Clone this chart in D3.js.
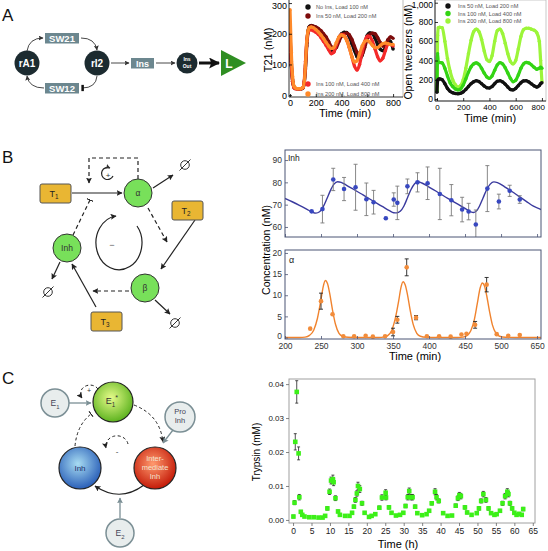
<!DOCTYPE html>
<html><head><meta charset="utf-8">
<script src="https://cdn.jsdelivr.net/npm/d3@7"></script>
<style>body{margin:0;background:#fff;} svg{display:block;}</style>
</head><body><svg id="c" width="548" height="551"></svg>
<script>
// ---------------- DATA ----------------
// Panel A, T21 chart
const t21Time=[0,10,20,30,40,60,80,100,110,120,130,140,150,165,180,200,220,240,260,280,300,320,340,360,380,400,420,440,460,480,500,520,540,560,580,600,620,640,660,680,700,720,740,760,780,800];
const t21NoIns=[178,95,45,26,22,20,20,23,40,95,170,210,224,227,224,220,213,205,195,183,165,145,143,162,188,200,205,204,190,168,145,125,118,130,165,195,203,200,185,165,150,145,155,180,175,150];
const t21Ins50=[200,110,50,28,23,21,21,24,38,85,160,205,222,226,225,222,217,210,200,190,175,158,150,155,175,192,200,202,197,182,160,140,128,132,155,185,198,202,200,188,172,160,162,180,190,185];
const t21Ins100=[190,100,45,25,21,20,20,24,45,110,180,205,212,213,210,205,198,188,175,162,148,135,140,165,188,198,195,180,155,125,95,82,100,140,175,192,190,175,150,125,112,120,145,165,165,160];
const t21Ins200=[278,140,60,30,24,21,21,25,40,100,175,210,220,222,220,214,206,196,185,172,160,152,155,172,190,196,192,178,155,125,108,112,135,160,175,178,172,162,155,155,162,168,170,168,165,165];
const t21Labels=["No Ins, Load 100 nM","Ins 50 nM, Load 200 nM","Ins 100 nM, Load 400 nM","Ins 200 nM, Load 800 nM"];
const t21XTicks=[0,200,400,600,800], t21YTicks=[0,100,200,300];
// Panel A, open tweezers chart
const twTime=[0,5,10,20,40,60,80,100,120,140,160,180,200,220,240,260,280,300,320,340,360,380,400,420,440,460,480,500,520,540,560,580,600,620,640,660,680,700,720,740,760,780,790,800];
const twIns50=[70,190,205,210,200,160,110,80,65,58,55,60,75,100,130,160,180,190,182,160,135,118,115,130,160,185,190,178,155,125,100,95,110,140,170,188,190,178,158,138,125,140,160,170];
const twIns100=[80,470,380,380,375,320,240,170,130,105,95,105,145,210,280,335,365,375,360,320,270,230,215,240,300,355,378,365,325,270,215,180,195,250,320,365,380,375,355,330,310,320,330,320];
const twIns200=[90,660,740,745,740,600,420,290,200,150,125,140,200,320,470,610,700,725,700,620,500,410,390,450,600,710,725,680,580,470,390,365,400,520,650,720,735,735,725,715,690,600,400,180];
const twLabels=["Ins   50 nM, Load 200 nM","Ins 100 nM, Load 400 nM","Ins 200 nM, Load 800 nM"];
const twXTicks=[0,200,400,600,800], twYTicks=[0,200,400,600,800,1000];
// Panel B, Inh data + fit
const inhTime=[237,252,267,282,298,313,323,340,351,356,370,384,398,415,431,446,455,465,481,497,512,526];
const inhVal=[67.0,68.0,81.3,77.0,77.8,72.4,71.1,63.9,72.3,70.8,78.2,80.0,79.6,74.8,72.0,67.8,66.9,61.1,77.2,71.4,76.2,72.3];
const inhErr=[0.5,6.2,5.0,5.2,10.3,7.3,5.3,0.6,3.0,7.5,3.3,4.3,7.3,11.5,7.0,5.5,3.7,6.5,10.3,3.3,2.5,1.7];
const inhFitTime=[200,210,220,230,238,243,248,253,258,263,268,273,278,285,295,305,315,325,335,345,351,355,360,365,370,375,380,384,390,400,410,420,430,440,450,458,462,466,470,475,480,485,490,495,505,515,525,535,545,556];
const inhFitVal=[72.8,71.3,69.7,68.0,66.6,66.2,66.8,69.0,72.5,76.3,79.2,80.3,80.0,78.8,76.9,75.0,73.1,71.1,69.2,67.3,66.4,66.3,67.0,69.3,73.0,76.8,79.4,80.3,79.7,77.9,76.0,74.0,72.1,70.2,68.3,66.8,66.5,67.2,69.3,73.0,76.7,79.2,80.2,79.9,78.0,75.9,73.7,71.5,69.3,67.8];
const inhYTicks=[60,70,80,90];
// Panel B, alpha data + fit
const alphaTime=[235,250,266,281,296,312,322,339,350,356,369,382,397,414,430,445,452,464,480,494,510,526];
const alphaVal=[2.1,8.6,5.5,0.3,0.3,0.4,0.2,0.3,1.3,4.2,16.6,4.7,0.3,0.3,0.2,0.7,0.9,3.0,12.5,0.8,0.4,0.6];
const alphaErr=[0,1.9,0,0,0,0,0,0,0.9,0.8,2.0,0.5,0,0,0,0,0,0.8,1.7,0,0,0];
const alphaFitTime=[200,220,228,234,240,245,250,253,256,259,262,266,270,275,280,288,300,330,337,343,348,353,358,361,364,367,370,374,378,383,388,396,410,440,447,453,458,463,467,471,474,477,480,484,488,493,498,506,520,556];
const alphaFitVal=[0,0,0.1,0.5,1.8,4.5,9.0,12.0,13.5,12.8,10.5,6.5,3.2,1.0,0.3,0.05,0,0,0.1,0.5,1.6,4.4,8.8,11.8,13.2,12.4,10.2,6.3,3.1,1.0,0.3,0.05,0,0,0.1,0.5,1.6,4.3,8.0,11.7,12.9,12.2,10.0,6.2,3.0,1.0,0.3,0.05,0,0];
const alphaYTicks=[0,5,10,15,20];
const bXTicks=[200,250,300,350,400,450,500,550];
const bXLabels=["200","250","300","350","400","450","500","650"];
// Panel C, trypsin
const trypTime=[0.1,0.4,0.6,1.0,1.5,1.7,2.1,2.5,3.1,4.4,5.6,6.9,8.0,8.7,9.3,9.9,10.3,10.8,11.0,11.5,12.2,12.7,14.1,15.3,16.0,16.5,16.9,17.3,17.6,18.1,18.7,19.4,20.6,21.3,22.3,23.4,24.1,25.1,25.2,26.0,26.7,27.9,29.0,29.9,30.5,31.1,31.5,32.0,32.4,33.1,33.7,35.0,36.2,36.9,37.6,38.5,38.9,39.5,40.7,41.9,43.1,44.1,44.7,45.1,45.5,46.6,47.2,48.4,49.8,50.4,51.0,51.6,52.3,53.0,53.7,54.6,55.2,56.1,56.8,57.5,58.1,58.4,58.8,59.4,60.0,60.6,61.3,62.0,62.4];
const trypVal=[0.0010,0.0051,0.0230,0.0377,0.0196,0.0067,0.0024,0.0015,0.0010,0.0008,0.0008,0.0007,0.0007,0.0012,0.0034,0.0083,0.0116,0.0120,0.0111,0.0064,0.0025,0.0015,0.0012,0.0012,0.0021,0.0039,0.0059,0.0078,0.0100,0.0091,0.0049,0.0021,0.0009,0.0012,0.0017,0.0036,0.0066,0.0080,0.0066,0.0037,0.0021,0.0013,0.0015,0.0021,0.0041,0.0067,0.0085,0.0067,0.0067,0.0039,0.0020,0.0014,0.0017,0.0027,0.0049,0.0083,0.0067,0.0056,0.0020,0.0012,0.0013,0.0042,0.0064,0.0073,0.0070,0.0037,0.0022,0.0015,0.0020,0.0034,0.0056,0.0076,0.0059,0.0034,0.0020,0.0015,0.0017,0.0027,0.0049,0.0070,0.0083,0.0076,0.0049,0.0034,0.0021,0.0015,0.0018,0.0015,0.0032];
const trypErr=[0.0004,0.0006,0.0024,0.0033,0.0019,0.0008,0.0004,0.0004,0.0003,0.0003,0.0003,0.0003,0.0003,0.0004,0.0005,0.0008,0.0010,0.0012,0.0010,0.0007,0.0004,0.0004,0.0003,0.0003,0.0004,0.0005,0.0007,0.0008,0.0011,0.0010,0.0006,0.0004,0.0003,0.0003,0.0004,0.0005,0.0008,0.0009,0.0007,0.0005,0.0004,0.0003,0.0003,0.0004,0.0005,0.0008,0.0009,0.0008,0.0008,0.0005,0.0004,0.0003,0.0003,0.0004,0.0005,0.0009,0.0008,0.0006,0.0004,0.0003,0.0003,0.0005,0.0007,0.0008,0.0008,0.0005,0.0004,0.0003,0.0004,0.0005,0.0006,0.0008,0.0007,0.0005,0.0004,0.0003,0.0003,0.0004,0.0006,0.0008,0.0009,0.0008,0.0006,0.0005,0.0004,0.0003,0.0004,0.0003,0.0005];
const cXTicks=[0,5,10,15,20,25,30,35,40,45,50,55,60,65];
const cYTicks=[0,0.01,0.02,0.03,0.04];

// ---------------- DRAWING ----------------
const FONT='"Liberation Sans", Arial, sans-serif';
const svg=d3.select('#c').attr('font-family',FONT);
const defs=svg.append('defs');
function marker(id,color,size){
  defs.append('marker').attr('id',id).attr('viewBox','0 0 10 10').attr('refX',9).attr('refY',5)
   .attr('markerWidth',size).attr('markerHeight',size).attr('markerUnits','userSpaceOnUse').attr('orient','auto')
   .append('path').attr('d','M0,0 L10,5 L0,10 L2,5 z').attr('fill',color);
}
marker('ah','#333',5); marker('ahBig','#111',11); marker('ahG','#7b8f95',6); marker('ahD','#222',6);
defs.append('marker').attr('id','bar').attr('viewBox','0 0 4 10').attr('refX',3).attr('refY',5)
  .attr('markerWidth',2.5).attr('markerHeight',8).attr('markerUnits','userSpaceOnUse').attr('orient','auto')
  .append('rect').attr('width',4).attr('height',10).attr('fill','#111');
defs.append('marker').attr('id','tbar').attr('viewBox','0 0 2 10').attr('refX',1).attr('refY',5)
  .attr('markerWidth',1.3).attr('markerHeight',8).attr('markerUnits','userSpaceOnUse').attr('orient','auto')
  .append('rect').attr('width',2).attr('height',10).attr('fill','#222');
function grad(id,c0,c1){const g=defs.append('radialGradient').attr('id',id).attr('cx','45%').attr('cy','40%').attr('r','60%');
  g.append('stop').attr('offset','0%').attr('stop-color',c0); g.append('stop').attr('offset','100%').attr('stop-color',c1);}
grad('gGreen','#e6fb8a','#5db31f'); grad('gRed','#ff9a6e','#c41a08'); grad('gBlue','#a8dcf2','#2a5fb8');

function clip(id,x,y){defs.append('clipPath').attr('id',id).append('rect').attr('x',x.range()[0]).attr('y',y.range()[1])
  .attr('width',x.range()[1]-x.range()[0]).attr('height',y.range()[0]-y.range()[1]);}
function frame(g,x,y,color,w){g.append('rect').attr('x',x.range()[0]).attr('y',y.range()[1]).attr('width',x.range()[1]-x.range()[0])
  .attr('height',y.range()[0]-y.range()[1]).attr('fill','none').attr('stroke',color).attr('stroke-width',w);}
function styleAx(sel,o){sel.attr('font-family',FONT).attr('font-size',o.fs);sel.select('.domain').remove();
  sel.selectAll('line').attr('stroke',o.tc||'#000').attr('stroke-width',o.sw||0.8);sel.selectAll('text').attr('fill',o.lc||'#000');}
function txt(g,x,y,s,fs,o={}){const t=g.append('text').attr('x',x).attr('y',y).attr('font-size',fs).attr('text-anchor',o.anchor||'middle')
  .attr('fill',o.fill||'#000').text(s); if(o.rot) t.attr('transform',`rotate(-90,${x},${y})`); if(o.weight) t.attr('font-weight',o.weight); return t;}

// ===== Panel A chart 1: T21 =====
{
 const x=d3.scaleLinear().domain([-8,877]).range([289,403]);
 const y=d3.scaleLinear().domain([-6,310]).range([97,0]);
 const g=svg.append('g'); clip('clipA1',x,y);
 g.append('line').attr('x1',403).attr('x2',403).attr('y1',0).attr('y2',97).attr('stroke','#bbb');
 const series=[[t21NoIns,'#111'],[t21Ins50,'#7d0b0b'],[t21Ins100,'#f42a2a'],[t21Ins200,'#ff8a2a']];
 const line=d3.line().x((d,i)=>x(t21Time[i])).y(d=>y(d)).curve(d3.curveMonotoneX);
 const lg=g.append('g').attr('clip-path','url(#clipA1)');
 series.forEach(([v,c])=>{lg.append('path').attr('d',line(v)).attr('fill','none').attr('stroke',c).attr('stroke-width',3.2);
   lg.selectAll(null).data(v).enter().append('circle').attr('cx',(d,i)=>x(t21Time[i])).attr('cy',d=>y(d)).attr('r',1.7).attr('fill',c);});
 g.append('line').attr('x1',289).attr('x2',289).attr('y1',0).attr('y2',97).attr('stroke','#000').attr('stroke-width',0.8);
 g.append('line').attr('x1',289).attr('x2',403).attr('y1',97).attr('y2',97).attr('stroke','#000').attr('stroke-width',0.8);
 const ay=g.append('g').attr('transform','translate(289,0)').call(d3.axisLeft(y).tickValues(t21YTicks).tickSize(-3).tickPadding(2));
 styleAx(ay,{fs:9});
 ay.selectAll('text').filter(d=>d===300).attr('dy','0.6em');
 const ax=g.append('g').attr('transform','translate(0,97)').call(d3.axisBottom(x).tickValues(t21XTicks).tickSize(-3).tickPadding(3));
 styleAx(ax,{fs:9});
 const ly=[7,16,84,94];
 series.forEach(([v,c],i)=>{g.append('circle').attr('cx',308).attr('cy',ly[i]).attr('r',2.7).attr('fill',c);
   txt(g,316,ly[i]+2,t21Labels[i],5.6,{anchor:'start',fill:'#555'});});
 txt(g,272,50,'T21 (nM)',11,{rot:true});
 txt(g,345,117,'Time (min)',11);
}
// ===== Panel A chart 2: Open tweezers =====
{
 const x=d3.scaleLinear().domain([-15,831]).range([435,546]);
 const y=d3.scaleLinear().domain([-20,1028]).range([101,0]);
 const g=svg.append('g'); clip('clipA2',x,y);
 frame(g,x,y,'#bbb',0.8);
 const series=[[twIns200,'#9cf53a'],[twIns100,'#33d414'],[twIns50,'#111']];
 const line=d3.line().x((d,i)=>x(twTime[i])).y(d=>y(d)).curve(d3.curveMonotoneX);
 const lg=g.append('g').attr('clip-path','url(#clipA2)');
 series.forEach(([v,c])=>{lg.append('path').attr('d',line(v)).attr('fill','none').attr('stroke',c).attr('stroke-width',3.2);
   lg.selectAll(null).data(v).enter().append('circle').attr('cx',(d,i)=>x(twTime[i])).attr('cy',d=>y(d)).attr('r',1.7).attr('fill',c);});
 g.append('line').attr('x1',435).attr('x2',435).attr('y1',0).attr('y2',101).attr('stroke','#000').attr('stroke-width',0.8);
 g.append('line').attr('x1',435).attr('x2',546).attr('y1',101).attr('y2',101).attr('stroke','#000').attr('stroke-width',0.8);
 const ay=g.append('g').attr('transform','translate(435,0)').call(d3.axisLeft(y).tickValues(twYTicks).tickSize(-3).tickPadding(2));
 styleAx(ay,{fs:8.5});
 ay.selectAll('text').filter(d=>d===1000).attr('dy','0.6em');
 const ax=g.append('g').attr('transform','translate(0,101)').call(d3.axisBottom(x).tickValues(twXTicks).tickSize(-3).tickPadding(3));
 styleAx(ax,{fs:8});
 ax.selectAll('text').filter(d=>d===800).attr('text-anchor','end').attr('dx','0.3em');
 const cols=['#111','#33d414','#9cf53a'], ly=[6,13.5,21];
 cols.forEach((c,i)=>{g.append('circle').attr('cx',448).attr('cy',ly[i]).attr('r',2.7).attr('fill',c);
   txt(g,458,ly[i]+2,twLabels[i],5.6,{anchor:'start',fill:'#555'});});
 txt(g,412,52,'Open tweezers (nM)',10.5,{rot:true});
 txt(g,490,122,'Time (min)',11);
}
// ===== Panel B charts =====
{
 const x=d3.scaleLinear().domain([200,555.5]).range([285,541]);
 const yI=d3.scaleLinear().domain([55.5,94.5]).range([237,150]);
 const yA=d3.scaleLinear().domain([-0.35,20.7]).range([339,250]);
 const g=svg.append('g'); clip('clipBI',x,yI); clip('clipBA',x,yA);
 const fc='#4a5474';
 // Inh
 const gi=g.append('g').attr('clip-path','url(#clipBI)');
 gi.append('path').attr('d',d3.line().x((d,i)=>x(inhFitTime[i])).y(d=>yI(d)).curve(d3.curveMonotoneX)(inhFitVal))
   .attr('fill','none').attr('stroke','#3a3a9e').attr('stroke-width',1.4);
 inhVal.forEach((v,i)=>{const cx=x(inhTime[i]);
   if(inhErr[i]>1){gi.append('line').attr('x1',cx).attr('x2',cx).attr('y1',yI(v-inhErr[i])).attr('y2',yI(v+inhErr[i])).attr('stroke','#7a7a7a').attr('stroke-width',0.9);
   [v-inhErr[i],v+inhErr[i]].forEach(e=>gi.append('line').attr('x1',cx-2).attr('x2',cx+2).attr('y1',yI(e)).attr('y2',yI(e)).attr('stroke','#7a7a7a').attr('stroke-width',0.9));}
   gi.append('circle').attr('cx',cx).attr('cy',yI(v)).attr('r',2.3).attr('fill','#3848c0');});
 frame(g,x,yI,fc,1);
 const ayI=g.append('g').attr('transform','translate(285,0)').call(d3.axisLeft(yI).tickValues(inhYTicks).tickSize(-3).tickPadding(3));
 styleAx(ayI,{fs:8.5,tc:fc,lc:'#333'});
 const axI=g.append('g').attr('transform','translate(0,237)').call(d3.axisBottom(x).tickValues(bXTicks).tickSize(-3).tickFormat(''));
 styleAx(axI,{fs:8,tc:fc});
 txt(g,288,161,'Inh',8.5,{anchor:'start',fill:'#222'});
 // alpha
 const ga=g.append('g').attr('clip-path','url(#clipBA)');
 ga.append('path').attr('d',d3.line().x((d,i)=>x(alphaFitTime[i])).y(d=>yA(d)).curve(d3.curveMonotoneX)(alphaFitVal))
   .attr('fill','none').attr('stroke','#f0832e').attr('stroke-width',1.4);
 alphaVal.forEach((v,i)=>{const cx=x(alphaTime[i]);
   if(alphaErr[i]>0){ga.append('line').attr('x1',cx).attr('x2',cx).attr('y1',yA(v-alphaErr[i])).attr('y2',yA(v+alphaErr[i])).attr('stroke','#222').attr('stroke-width',0.9);
   [v-alphaErr[i],v+alphaErr[i]].forEach(e=>ga.append('line').attr('x1',cx-2).attr('x2',cx+2).attr('y1',yA(e)).attr('y2',yA(e)).attr('stroke','#222').attr('stroke-width',0.9));}
   ga.append('circle').attr('cx',cx).attr('cy',yA(v)).attr('r',2.3).attr('fill','#f28c3a');});
 frame(g,x,yA,fc,1);
 const ayA=g.append('g').attr('transform','translate(285,0)').call(d3.axisLeft(yA).tickValues(alphaYTicks).tickSize(-3).tickPadding(3));
 styleAx(ayA,{fs:8.5,tc:fc,lc:'#333'});
 ayA.selectAll('text').filter(d=>d===0).attr('dy','0.1em');
 const axA=g.append('g').attr('transform','translate(0,339)').call(d3.axisBottom(x).tickValues(bXTicks).tickSize(-3).tickPadding(4).tickFormat((d,i)=>bXLabels[i]));
 styleAx(axA,{fs:8.5,tc:fc,lc:'#333'});
 txt(g,289,263,'α',9,{anchor:'start',fill:'#222'});
 txt(g,415,360,'Time (min)',11);
 txt(g,270,250,'Concentration (nM)',10.5,{rot:true});
}
// ===== Panel C chart =====
{
 const x=d3.scaleLinear().domain([-1.1,65.6]).range([289,535]);
 const y=d3.scaleLinear().domain([-0.0009,0.0415]).range([523,379]);
 const g=svg.append('g');
 frame(g,x,y,'#a0a0a0',1);
 const ay=g.append('g').attr('transform','translate(289,0)').call(d3.axisLeft(y).tickValues(cYTicks).tickSize(3).tickPadding(2).tickFormat(d3.format('.2f')));
 styleAx(ay,{fs:8,tc:'#666',lc:'#222'});
 const ax=g.append('g').attr('transform','translate(0,523)').call(d3.axisBottom(x).tickValues(cXTicks).tickSize(3).tickPadding(2));
 styleAx(ax,{fs:8.5,tc:'#666',lc:'#222'});
 trypVal.forEach((v,i)=>{const cx=x(trypTime[i]);
   g.append('line').attr('x1',cx).attr('x2',cx).attr('y1',y(v-trypErr[i])).attr('y2',y(v+trypErr[i])).attr('stroke','#222').attr('stroke-width',0.8);
   [v-trypErr[i],v+trypErr[i]].forEach(e=>g.append('line').attr('x1',cx-1.5).attr('x2',cx+1.5).attr('y1',y(e)).attr('y2',y(e)).attr('stroke','#222').attr('stroke-width',0.8));});
 trypVal.forEach((v,i)=>{g.append('rect').attr('x',x(trypTime[i])-2.3).attr('y',y(v)-2.3).attr('width',4.6).attr('height',4.6).attr('fill','#3cf018');});
 txt(g,398,548,'Time (h)',11);
 txt(g,260,452,'Trypsin (mM)',10,{rot:true});
}

// ===== Diagrams =====
function path(g,d,o={}){const p=g.append('path').attr('d',d).attr('fill','none').attr('stroke',o.c||'#333').attr('stroke-width',o.w||1);
  if(o.dash) p.attr('stroke-dasharray',o.dash); if(o.end) p.attr('marker-end',`url(#${o.end})`); return p;}
function subT(g,x,y,m,s,fs,fill,sup){const t=g.append('text').attr('x',x).attr('y',y).attr('text-anchor','middle').attr('font-size',fs).attr('fill',fill);
  t.append('tspan').text(m); t.append('tspan').attr('dy',fs*0.3).attr('font-size',fs*0.7).text(s); if(sup) t.append('tspan').attr('dy',-fs*0.75).attr('font-size',fs*0.8).text(sup);}
function empty(g,cx,cy){g.append('circle').attr('cx',cx).attr('cy',cy).attr('r',4.3).attr('fill','none').attr('stroke','#333').attr('stroke-width',1);
  g.append('line').attr('x1',cx-5.5).attr('y1',cy+5.5).attr('x2',cx+5.5).attr('y2',cy-5.5).attr('stroke','#333').attr('stroke-width',1);}
// Panel A diagram
{
 const g=svg.append('g');
 txt(g,2,21,'A',17,{anchor:'start',fill:'#111'});
 path(g,'M27,51 Q29,38 43,38',{end:'ah',w:0.9});
 path(g,'M81,38 Q95,38 97,50',{end:'ah',w:0.9});
 path(g,'M97,76 Q96,88 82,88',{end:'bar',w:0.9});
 path(g,'M44,88 Q29,88 27,76',{end:'ah',w:0.9});
 [['SW21',45,33],['SW12',45,83]].forEach(([s,bx,by])=>{g.append('rect').attr('x',bx).attr('y',by).attr('width',34).attr('height',10.5).attr('fill','#6c878f');
   txt(g,bx+17,by+9,s,9.5,{fill:'#fff',weight:'bold'});});
 g.append('rect').attr('x',131).attr('y',58).attr('width',23).attr('height',10.5).attr('fill','#6c878f');
 txt(g,142.5,67,'Ins',9,{fill:'#fff',weight:'bold'});
 [['rA1',27],['rI2',97]].forEach(([s,cx])=>{g.append('circle').attr('cx',cx).attr('cy',63).attr('r',12.5).attr('fill','#1c2b30');
   txt(g,cx,67,s,10,{fill:'#fff',weight:'bold'});});
 g.append('circle').attr('cx',187).attr('cy',63).attr('r',10.5).attr('fill','#1c2b30');
 txt(g,187,61,'Ins',5,{fill:'#fff',weight:'bold'}); txt(g,187,68,'Out',5,{fill:'#fff',weight:'bold'});
 path(g,'M111,63 L129,63',{end:'ah',w:0.9});
 path(g,'M156,63 L175,63',{end:'ah',w:0.9});
 path(g,'M199,63 L219,63',{end:'ahBig',w:3,c:'#111'});
 g.append('path').attr('d','M221,50 L221,76 L246,63 Z').attr('fill','#2f8e22');
 txt(g,229,68,'L',12,{fill:'#fff',weight:'bold'});
}
// Panel B diagram
{
 const g=svg.append('g');
 txt(g,2,163,'B',17,{anchor:'start',fill:'#111'});
 path(g,'M72,193 L122,193',{end:'ahD',w:1.2,c:'#222'});
 path(g,'M73,235 L90,200',{end:'tbar',w:1.2,dash:'4,3',c:'#222'});
 path(g,'M138,179 L138,158 L89,158 L89,183',{end:'ahD',w:1.2,dash:'4,3',c:'#222'});
 path(g,'M113,176 A6,6 0 1 1 110,168',{end:'ah',w:1.2,c:'#222'});
 txt(g,108,178,'+',8,{fill:'#333'});
 path(g,'M153,188 L173,175',{end:'ahD',w:1.2,c:'#222'}); empty(g,185,165);
 path(g,'M148,208 L167,242',{end:'ahD',w:1.2,dash:'4,3',c:'#222'});
 path(g,'M195,220 L161,269',{end:'ahD',w:1.2,c:'#222'});
 path(g,'M129,291 L93,291',{end:'ahD',w:1.2,dash:'4,3',c:'#222'});
 path(g,'M155,300 L170,314',{end:'ahD',w:1.2,c:'#222'}); empty(g,175,323);
 path(g,'M60,262 L52,279',{end:'ahD',w:1.2,c:'#222'}); empty(g,48,292);
 path(g,'M96,307 L72,264',{end:'ahD',w:1.2,c:'#222'});
 path(g,'M137,226 A23,27 0 1 1 116,216',{end:'ahD',w:1.2,c:'#222'});
 txt(g,112,248,'−',9,{fill:'#555'});
 [['α',138,193],['Inh',67,248],['β',145,288]].forEach(([s,cx,cy])=>{g.append('circle').attr('cx',cx).attr('cy',cy).attr('r',14).attr('fill','#78e05a').attr('stroke','#333').attr('stroke-width',1);
   txt(g,cx,cy+3,s,8.5,{fill:'#333'});});
 [['T','1',40,184],['T','2',172,201],['T','3',91,312]].forEach(([m,s,bx,by])=>{g.append('rect').attr('x',bx).attr('y',by).attr('width',31).attr('height',19).attr('rx',2)
   .attr('fill','#e9b633').attr('stroke','#555').attr('stroke-width',1); subT(g,bx+14,by+12.5,m,s,9,'#222');});
}
// Panel C diagram
{
 const g=svg.append('g');
 txt(g,2,384,'C',17,{anchor:'start',fill:'#111'});
 path(g,'M69,403 L91,403',{end:'ahG',w:1.3,c:'#7b8f95'});
 path(g,'M98,389 A9,8 0 1 0 82,398',{end:'ahD',w:1,dash:'3,2.5',c:'#222'});
 txt(g,89,393,'+',7,{fill:'#333'});
 path(g,'M134,405 Q160,415 163,442',{end:'ahD',w:1,dash:'3,2.5',c:'#222'});
 path(g,'M173,430 L163,443',{end:'ahG',w:1.3,c:'#7b8f95'});
 path(g,'M75,446 Q77,425 91,414',{end:'tbar',w:1,dash:'3,2.5',c:'#222'});
 path(g,'M128,444 A11,10 0 1 0 106,448',{end:'ahD',w:1,dash:'3,2.5',c:'#222'});
 txt(g,117,454,'-',8,{fill:'#333'});
 path(g,'M144,485 Q120,503 95,486',{end:'ahD',w:1.2,c:'#222'});
 path(g,'M120,518 L120,498',{end:'ahG',w:1.3,c:'#7b8f95'});
 const lite=(cx,cy,r)=>g.append('circle').attr('cx',cx).attr('cy',cy).attr('r',r).attr('fill','#e8eded').attr('stroke','#7b8f95').attr('stroke-width',1.5);
 lite(55,403,14); subT(g,55,406,'E','1',8.5,'#445');
 lite(180,417,15); txt(g,180,414,'Pro',7.5,{fill:'#445'}); txt(g,180,423,'Inh',7.5,{fill:'#445'});
 lite(120,533,14); subT(g,120,536,'E','2',8.5,'#445');
 g.append('circle').attr('cx',113).attr('cy',402).attr('r',20).attr('fill','url(#gGreen)').attr('stroke','#222').attr('stroke-width',1.2);
 subT(g,112,404,'E','1','9','#333','*');
 g.append('circle').attr('cx',155).attr('cy',468).attr('r',21).attr('fill','url(#gRed)').attr('stroke','#222').attr('stroke-width',1.2);
 txt(g,155,461,'Inter-',7.5,{fill:'#f4e4d0'}); txt(g,155,470,'mediate',7.5,{fill:'#f4e4d0'}); txt(g,155,479,'Inh',7.5,{fill:'#f4e4d0'});
 g.append('circle').attr('cx',80).attr('cy',468).attr('r',21).attr('fill','url(#gBlue)').attr('stroke','#222').attr('stroke-width',1.2);
 txt(g,80,471,'Inh',8,{fill:'#1b2d6b'});
}
</script></body></html>
